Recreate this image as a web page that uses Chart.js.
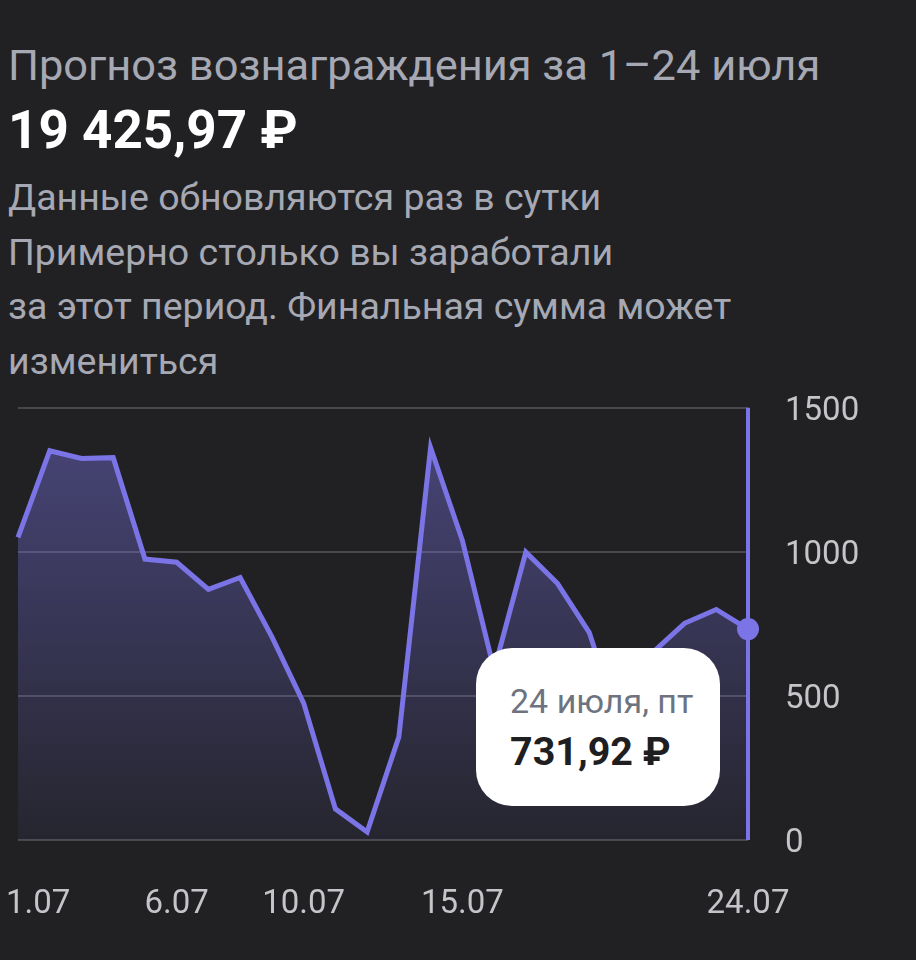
<!DOCTYPE html>
<html lang="ru">
<head>
<meta charset="utf-8">
<script src="https://cdn.jsdelivr.net/npm/chart.js@4.4.1/dist/chart.umd.min.js"></script>
<style>
	html, body { margin: 0; padding: 0; background: #212124; width: 916px; height: 960px; overflow: hidden; font-family: Roboto, 'Noto Sans', sans-serif; }
	.title { position: absolute; left: 8px; top: 44px; font-size: 43.4px; line-height: 44px; color: #a6a9b3; white-space: nowrap; }
	.total { position: absolute; left: 8px; top: 103px; font-size: 53px; line-height: 54px; font-weight: 700; color: #ffffff; white-space: nowrap; }
	.note { position: absolute; left: 8px; top: 170px; font-size: 37.5px; line-height: 54.5px; color: #a6a9b3; white-space: nowrap; }
	#wrap { position: absolute; left: 0; top: 351px; width: 916px; height: 609px; }
	#tip { position: absolute; width: 244px; height: 158px; background: #ffffff; border-radius: 36px; }
	#tip .day { position: absolute; left: 34px; top: 36px; font-size: 34px; line-height: 34px; color: #6e7380; white-space: nowrap; }
	#tip .sum { position: absolute; left: 34px; top: 83px; font-size: 39.5px; line-height: 41px; font-weight: 700; color: #1f1f22; white-space: nowrap; }
</style>
</head>
<body>
<div class="title">Прогноз вознаграждения за 1–24 июля</div>
<div class="total">19 425,97 ₽</div>
<div class="note">Данные обновляются раз в сутки<br>Примерно столько вы заработали<br>за этот период. Финальная сумма может<br>измениться</div>
<div id="wrap"><canvas id="reward-chart"></canvas></div>
<div id="tip"><div class="day">24 июля, пт</div><div class="sum">731,92 ₽</div></div>
<script>
const COLORS = {
	line: '#7b74e6',
	grid: '#48484c',
	tick: '#c4c4c9',
};
const days = [
	'1.07', '2.07', '3.07', '4.07', '5.07', '6.07', '7.07', '8.07',
	'9.07', '10.07', '11.07', '12.07', '13.07', '14.07', '15.07', '16.07',
	'17.07', '18.07', '19.07', '20.07', '21.07', '22.07', '23.07', '24.07',
];
const reward = [
	1050, 1351, 1324, 1327, 975, 964, 870, 911,
	705, 475, 108, 28, 358, 1362, 1040, 590,
	999, 890, 720, 380, 651, 752, 800, 731.92,
];
const shownDays = ['1.07', '6.07', '10.07', '15.07', '24.07'];
const yTicks = [0, 500, 1000, 1500];
const active = days.length - 1;

const reward_chart = document.getElementById('reward-chart').getContext('2d');

//Crosshair, x labels and tooltip box
const extras = {
	id: 'extras',
	beforeDatasetsDraw(chart) {
		const {ctx, chartArea} = chart;
		const x = chart.scales.x.getPixelForValue(active);
		ctx.save();
		ctx.strokeStyle = COLORS.line;
		ctx.lineWidth = 4;
		ctx.beginPath();
		ctx.moveTo(x, chartArea.top);
		ctx.lineTo(x, chartArea.bottom);
		ctx.stroke();
		ctx.restore();
	},
	afterDraw(chart) {
		const {ctx, chartArea} = chart;
		const xs = chart.scales.x;
		ctx.save();
		ctx.font = '33px Roboto';
		ctx.fillStyle = COLORS.tick;
		ctx.textBaseline = 'alphabetic';
		shownDays.forEach((d) => {
			const i = days.indexOf(d);
			const w = ctx.measureText(d).width;
			const left = Math.max(xs.getPixelForValue(i) - w / 2, 6);
			ctx.fillText(d, left, chartArea.bottom + 73);
		});
		ctx.restore();

		const pt = chart.getDatasetMeta(0).data[active];
		const box = chart.canvas.getBoundingClientRect();
		const tip = document.getElementById('tip');
		tip.style.left = (box.left + pt.x - 272) + 'px';
		tip.style.top = (box.top + pt.y + 19) + 'px';
	},
};

const data_reward = {
	labels: days,
	datasets: [
		{
			data: reward,
			borderColor: COLORS.line,
			borderWidth: 5,
			tension: 0,
			fill: 'origin',
			backgroundColor: (c) => {
				const area = c.chart.chartArea;
				if (!area) return null;
				const g = c.chart.ctx.createLinearGradient(0, area.top, 0, area.bottom);
				g.addColorStop(0, 'rgba(123, 116, 230, 0.45)');
				g.addColorStop(1, 'rgba(123, 116, 230, 0.06)');
				return g;
			},
			pointRadius: (c) => (c.dataIndex === active ? 11 : 0),
			pointBackgroundColor: COLORS.line,
			pointBorderWidth: 0,
		},
	],
};

const config_reward = {
	type: 'line',
	data: data_reward,
	options: {
		responsive: true,
		maintainAspectRatio: false,
		animation: false,
		events: [],
		layout: {
			padding: { top: 0, left: 18, right: 0, bottom: 120 },
		},
		scales: {
			x: {
				display: false,
			},
			y: {
				position: 'right',
				min: 0,
				max: 1500,
				afterBuildTicks: (s) => {
					s.ticks = yTicks.map((v) => ({ value: v }));
				},
				afterFit: (s) => {
					s.width = 168;
				},
				grid: {
					color: COLORS.grid,
					lineWidth: 2,
					drawTicks: false,
				},
				border: { display: false },
				ticks: {
					padding: 37,
					labelOffset: 4,
					color: COLORS.tick,
					font: { family: 'Roboto', size: 33 },
					callback: (v) => String(v),
				},
			},
		},
		plugins: {
			legend: { display: false },
			tooltip: { enabled: false },
		},
	},
	plugins: [extras],
};

new Chart(reward_chart, config_reward);
</script>
</body>
</html>
